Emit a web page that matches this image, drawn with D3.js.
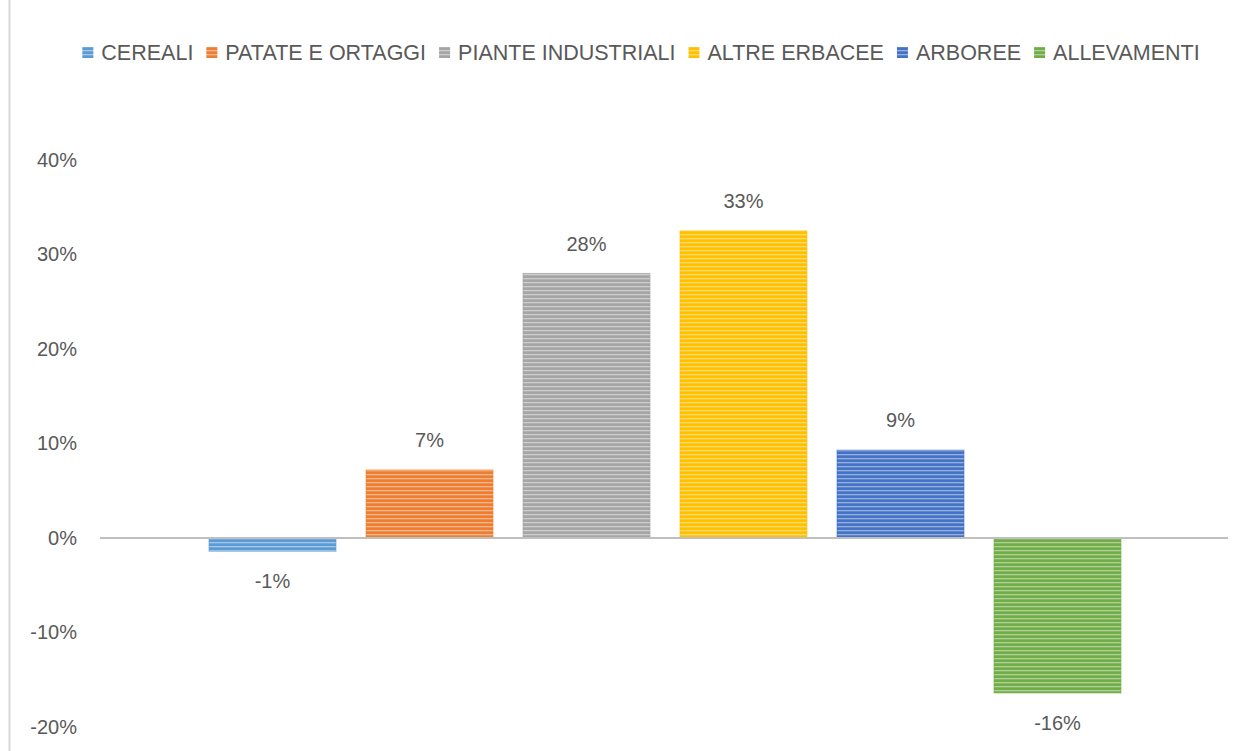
<!DOCTYPE html>
<html>
<head>
<meta charset="utf-8">
<script src="https://cdn.jsdelivr.net/npm/d3@7"></script>
<style>
  body { margin: 0; background: #fff; }
  text { font-family: "Liberation Sans", Arial, sans-serif; fill: #595959; }
</style>
</head>
<body>
<div id="chart"></div>
<script>
const categories = ['CEREALI', 'PATATE E ORTAGGI', 'PIANTE INDUSTRIALI', 'ALTRE ERBACEE', 'ARBOREE', 'ALLEVAMENTI'];
const values = [-0.014, 0.072, 0.280, 0.325, 0.093, -0.164];
const colors = ['#5B9BD5', '#ED7D31', '#A5A5A5', '#FFC000', '#4472C4', '#70AD47'];
const yTicks = [-0.2, -0.1, 0, 0.1, 0.2, 0.3, 0.4];

const width = 1248, height = 751;

const svg = d3.select('#chart').append('svg')
  .attr('width', width)
  .attr('height', height);

// left frame edge
svg.append('line')
  .attr('x1', 9.5).attr('x2', 9.5).attr('y1', 0).attr('y2', height)
  .attr('stroke', '#d9d9d9').attr('stroke-width', 2);

// striped fills
const defs = svg.append('defs');
colors.forEach((c, i) => {
  const p = defs.append('pattern')
    .attr('id', 'stripe' + i)
    .attr('patternUnits', 'userSpaceOnUse')
    .attr('width', 8).attr('height', 4);
  p.append('rect').attr('width', 8).attr('height', 4).attr('fill', c);
  p.append('rect').attr('y', 2).attr('width', 8).attr('height', 1.3)
    .attr('fill', '#fff').attr('opacity', 0.45);
});

const y = d3.scaleLinear().domain([-0.2, 0.4]).range([727, 160]);
const x = d3.scaleBand().domain(categories).range([194, 1136])
  .paddingInner(30 / 157).paddingOuter(15 / 157);

const pct = d3.format('.0%');
const fmt = v => pct(v).replace('\u2212', '-');

// y axis labels
const yAxis = d3.axisLeft(y).tickValues(yTicks).tickFormat(fmt).tickSize(0).tickPadding(0);
const gy = svg.append('g').attr('transform', 'translate(77,0)').call(yAxis);
gy.select('.domain').remove();
gy.selectAll('text').style('font-size', '20px').style('fill', '#595959')
  .style('font-family', '"Liberation Sans", Arial, sans-serif');

// bars
svg.selectAll('rect.bar')
  .data(categories)
  .enter().append('rect')
  .attr('class', 'bar')
  .attr('x', d => x(d))
  .attr('width', x.bandwidth())
  .attr('y', (d, i) => y(Math.max(0, values[i])))
  .attr('height', (d, i) => Math.abs(y(values[i]) - y(0)))
  .attr('fill', (d, i) => 'url(#stripe' + i + ')')
  .attr('stroke', (d, i) => colors[i])
  .attr('stroke-opacity', 0.6)
  .attr('stroke-width', 1);

// zero axis line
svg.append('line')
  .attr('x1', 100).attr('x2', 1228)
  .attr('y1', y(0)).attr('y2', y(0))
  .attr('stroke', '#bfbfbf').attr('stroke-width', 2);

// value labels
svg.selectAll('text.val')
  .data(categories)
  .enter().append('text')
  .attr('class', 'val')
  .attr('x', d => x(d) + x.bandwidth() / 2)
  .attr('y', (d, i) => values[i] >= 0 ? y(values[i]) - 30 : y(values[i]) + 30)
  .attr('dy', '0.36em')
  .attr('text-anchor', 'middle')
  .style('font-size', '20px')
  .text((d, i) => fmt(values[i]));

// legend
const legend = svg.append('g');
let cx = 0;
categories.forEach((c, i) => {
  const g = legend.append('g').attr('transform', 'translate(' + cx + ',0)');
  g.append('rect').attr('x', 0).attr('y', -13).attr('width', 11).attr('height', 11)
    .attr('fill', 'url(#stripe' + i + ')');
  const t = g.append('text').attr('x', 19).attr('y', 0)
    .style('font-size', '21.5px').text(c);
  cx += 19 + t.node().getComputedTextLength() + 13;
});
const legendW = cx - 13;
legend.attr('transform', 'translate(' + (641 - legendW / 2) + ',60)');
</script>
</body>
</html>
